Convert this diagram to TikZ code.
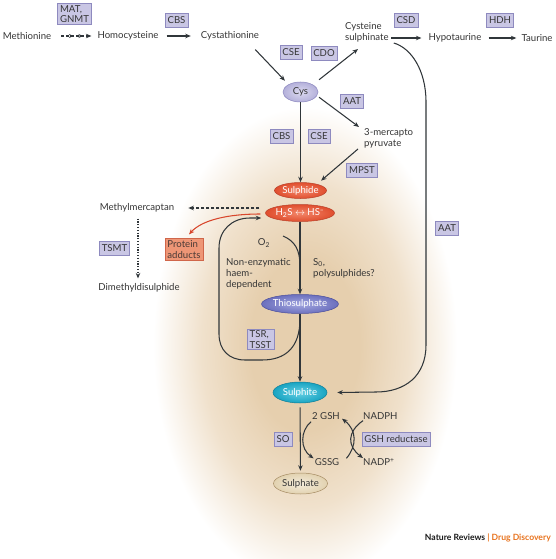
\documentclass[tikz,border=0pt]{standalone}
\usepackage{fontspec}
\setmainfont{Lato}
\usetikzlibrary{arrows.meta,decorations.markings,shapes.geometric,calc}
\definecolor{txt}{HTML}{353535}
\definecolor{ln}{HTML}{30363A}
\definecolor{enzf}{HTML}{C9C6E4}
\definecolor{enzd}{HTML}{8E8ABF}
\definecolor{bgc}{HTML}{E6CFAE}
\definecolor{redb}{HTML}{E04E2E}
\definecolor{redi}{HTML}{F2866A}
\definecolor{redd}{HTML}{B8402A}
\definecolor{cysb}{HTML}{B4B0DA}
\definecolor{cysi}{HTML}{DCDAF0}
\definecolor{cysd}{HTML}{8A86BE}
\definecolor{thib}{HTML}{6C70BE}
\definecolor{thii}{HTML}{A4A8E0}
\definecolor{thid}{HTML}{4A4E9C}
\definecolor{sub}{HTML}{18A4C2}
\definecolor{sui}{HTML}{66D0E4}
\definecolor{sud}{HTML}{0E7E98}
\definecolor{sab}{HTML}{E2D2B0}
\definecolor{sai}{HTML}{F4ECDC}
\definecolor{sad}{HTML}{A68C64}
\definecolor{padf}{HTML}{EE9676}
\definecolor{padd}{HTML}{D0664A}
\definecolor{padt}{HTML}{4A3A36}
\definecolor{redarr}{HTML}{D8462C}
\definecolor{natorange}{HTML}{E8731E}
\definecolor{bgmid}{HTML}{F0E1CC}
\pgfdeclareradialshading{bgshade}{\pgfpoint{0bp}{0bp}}{color(0bp)=(bgc); color(9bp)=(bgc); color(17bp)=(bgmid); color(25bp)=(white); color(50bp)=(white)}
\begin{document}
\begin{tikzpicture}[x=1pt,y=-1pt,
  lbl/.style={text=txt, inner sep=1pt, font=\fontsize{9.6}{11}\selectfont},
  enz/.style={draw=enzd, fill=enzf, line width=0.6pt, text=txt, inner xsep=2.5pt, inner ysep=1.5pt, minimum height=14pt, font=\fontsize{9.6}{10.5}\selectfont, align=left},
  met/.style={ellipse, inner sep=0pt, line width=0.5pt, font=\fontsize{9.6}{11}\selectfont},
  redmet/.style={met, draw=redd, inner color=redi, outer color=redb, text=white},
  arr/.style={draw=ln, line width=1.05pt, -{Stealth[length=5.5pt,width=4.5pt]}},
  redarrow/.style={draw=redarr, line width=1.05pt, -{Stealth[length=5.5pt,width=4.5pt]}},
  dashline/.style={dash pattern=on 3pt off 2pt},
  dotline/.style={dash pattern=on 1.2pt off 1.6pt},
  midheads/.style={postaction={decorate}, decoration={markings,
      mark=at position 0.4 with {\arrow{Stealth[length=4.5pt,width=4pt]}},
      mark=at position 0.72 with {\arrow{Stealth[length=4.5pt,width=4pt]}}}}
]
\useasboundingbox (0,0) rectangle (555,559);
\fill[white] (0,0) rectangle (555,559);
\shade[shading=bgshade] (305,345) ellipse [x radius=152pt, y radius=238pt];

% top row
\node[lbl] (met) at (27,36) {Methionine};
\node[lbl] (hcy) at (128,36) {Homocysteine};
\node[lbl] (cysta) at (230,36) {Cystathionine};
\node[lbl, align=left, anchor=west] (cysul) at (344,32) {Cysteine\\sulphinate};
\node[lbl] (hypo) at (455,38) {Hypotaurine};
\node[lbl] (tau) at (537,38) {Taurine};
\node[enz] (e1) at (74.5,14) {MAT,\\GNMT};
\node[enz] (e2) at (176.5,20) {CBS};
\node[enz] (e3) at (406,20) {CSD};
\node[enz] (e4) at (500,20) {HDH};
\node[enz] (e5) at (291,52) {CSE};
\node[enz] (e6) at (324,53) {CDO};

% Cys and around
\node[met, draw=cysd, inner color=cysi, outer color=cysb, text=txt, minimum width=35pt, minimum height=20pt] (cys) at (300.5,92) {Cys};
\node[enz] (e7) at (352,101) {AAT};
\node[lbl, align=left, anchor=west] (mp) at (363,138.5) {3-mercapto\\pyruvate};
\node[enz] (e8) at (281.5,136) {CBS};
\node[enz] (e9) at (319,136) {CSE};
\node[enz] (e10) at (362,170) {MPST};

% sulphide
\node[redmet, minimum width=52pt, minimum height=16pt] (sulph) at (300.5,190.5) {Sulphide};
\node[redmet, minimum width=64pt, minimum height=17pt] (h2s) at (300,213) {H\textsubscript{2}S $\leftrightarrow$ HS\textsuperscript{–}};

% left branch
\node[lbl] (mm) at (137,208) {Methylmercaptan};
\node[lbl] (dmds) at (139,288) {Dimethyldisulphide};
\node[enz] (e11) at (114.5,248) {TSMT};
\node[draw=padd, fill=padf, line width=0.6pt, text=padt, align=left, inner xsep=2.5pt, inner ysep=2pt, font=\fontsize{9.6}{10.5}\selectfont] (pad) at (184,249.5) {Protein\\adducts};

% middle
\node[lbl] (o2) at (264,243) {O\textsubscript{2}};
\node[lbl, align=left, anchor=west] (ne) at (225,273.5) {Non-enzymatic\\haem-\\dependent};
\node[lbl, align=left, anchor=west] (s0) at (312,268) {S\textsubscript{0},\\polysulphides?};
\node[met, draw=thid, inner color=thii, outer color=thib, text=white, minimum width=65pt, minimum height=19pt] (thio) at (300,304) {Thiosulphate};
\node[enz] (e12) at (260.5,339.5) {TSR,\\TSST};
\node[enz] (e13) at (447,228.5) {AAT};

% sulphite / sulphate
\node[met, draw=sud, inner color=sui, outer color=sub, text=white, minimum width=54pt, minimum height=21pt] (sulphite) at (300,392.5) {Sulphite};
\node[met, draw=sad, inner color=sai, outer color=sab, text=txt, minimum width=54pt, minimum height=21pt] (sulphate) at (300.5,483.5) {Sulphate};
\node[enz] (e14) at (283,439) {SO};
\node[enz] (e15) at (396,439) {GSH reductase};
\node[lbl] (gsh) at (326,416) {2 GSH};
\node[lbl] (gssg) at (327,462) {GSSG};
\node[lbl, anchor=west] (nadph) at (362,416) {NADPH};
\node[lbl, anchor=west] (nadp) at (362,462) {NADP\textsuperscript{+}};

\node[anchor=east, inner sep=0pt, font=\bfseries\fontsize{8.6}{10}\selectfont, text=black!90] (nr) at (551,538) {Nature Reviews \textcolor{natorange}{| Drug Discovery}};

% connectors, top row
\draw[arr, dashline, midheads] ($(met.east)+(9,0)$) -- ($(hcy.west)+(-5,0)$);
\draw[arr] ($(hcy.east)+(7,0)$) -- ($(cysta.west)+(-9,0)$);
\draw[arr] ($(hypo.west)+(-36,0)$) -- ($(hypo.west)+(-6,0)$);
\draw[arr] ($(hypo.east)+(6,0)$) -- ($(tau.west)+(-4,0)$);
\draw[arr] ($(cysta.south east)+(-5,8)$) -- ($(cys.north west)+(-3,-4)$);
\draw[arr] ($(cys.north east)+(6,-5)$) -- ($(cysul.south west)+(14,6)$);
\draw[arr] ($(cys.south east)+(6,-2)$) -- ($(mp.west)+(-4,-11.5)$);
\draw[arr] ($(mp.west)+(-5,10.5)$) -- ($(sulph.north east)+(2,-4)$);
\draw[arr] (cys) -- (sulph);

% AAT long curve
\draw[arr] ($(cysul.east)+(4,11)$) .. controls (411,48) and (426,70) .. (426,102) -- (426,345) .. controls (426,376) and (405,392) .. (376,392) -- ($(sulphite.east)+(10,0)$);

% left branch
\draw[arr, dashline] ($(h2s.west)+(-6,-5)$) -- ($(mm.east)+(13,0)$);
\draw[arr, dotline] ($(mm.south)+(1,5)$) -- ($(dmds.north)+(-1,-4)$);
\draw[redarrow] ($(h2s.west)+(-5,1)$) .. controls (228,214) and (202,220) .. ($(pad.north)+(5,-4)$);

% middle
\draw[arr] (h2s) -- (thio);
\draw[draw=ln, line width=1.05pt] ($(o2)+(19,-7)$) .. controls ($(o2)+(31,-2)$) and ($(o2)+(36,7)$) .. ($(o2)+(36,23)$);
\draw[arr] (thio) -- (sulphite);
\draw[arr] ($(thio.south)+(0,5)$) .. controls (300,348) and (285,360) .. (262,360) -- (245,360) .. controls (229,360) and (219,350) .. (219,334) -- (219,248) .. controls (219,230) and (232,218) .. (250,218) -- ($(h2s.west)+(-4,5)$);

% bottom
\draw[arr, shorten <=4pt, shorten >=2pt] (sulphite) -- (sulphate);
\draw[arr] ($(gsh.south west)+(0,1)$) .. controls (300,431) and (300,449) .. ($(gssg.north west)+(0,1)$);
\draw[arr] ($(gssg.north east)+(6,1)$) .. controls (357,446) and (357,430) .. ($(gsh.south east)+(1,-2)$);
\draw[arr] ($(nadph.south west)+(1,0)$) .. controls (347,432) and (347,446) .. ($(nadp.north west)+(1,1)$);
\end{tikzpicture}
\end{document}
